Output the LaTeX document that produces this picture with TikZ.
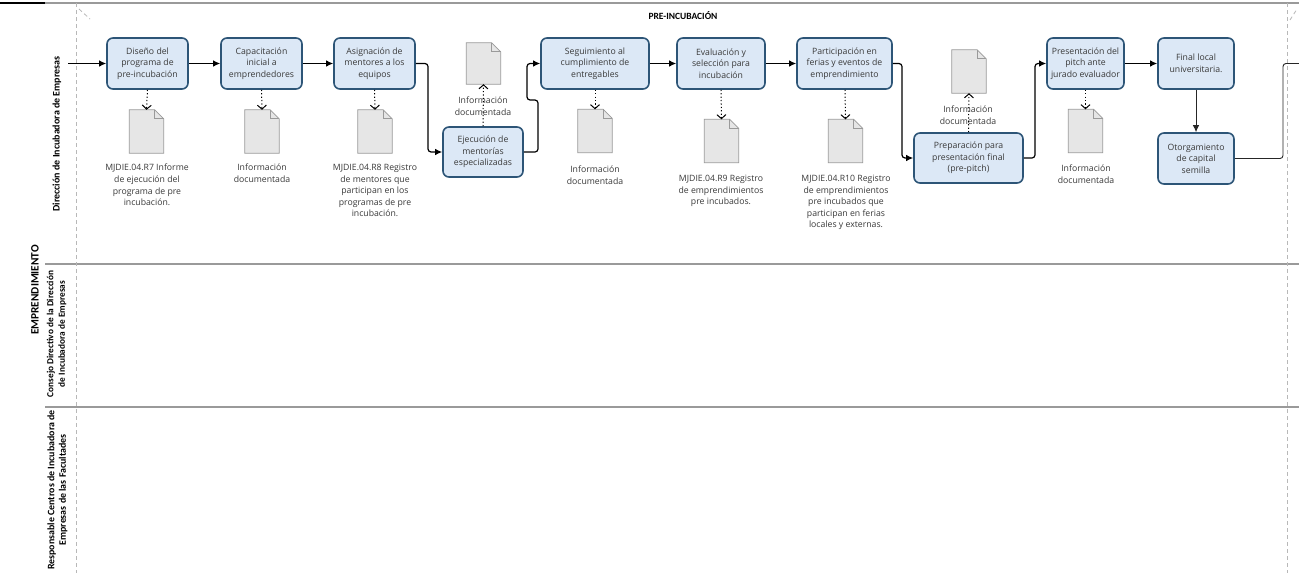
\documentclass[tikz,border=0pt]{standalone}
\usepackage{fontspec}
\setmainfont{Open Sans}
\newfontfamily\lblfont{Carlito}
\usetikzlibrary{arrows.meta}
\definecolor{taskfill}{HTML}{DCE8F6}
\definecolor{taskdraw}{HTML}{2D5577}
\definecolor{docfill}{HTML}{E6E6E6}
\definecolor{docdraw}{HTML}{9A9A9A}
\definecolor{txt}{HTML}{3A3A3A}
\definecolor{lanegray}{HTML}{9A9A9A}
\tikzset{
  task/.style={draw=taskdraw, fill=taskfill, line width=1.6pt, rounded corners=6pt, align=center,
    text=txt, font=\fontsize{8.7}{11.5}\selectfont, inner sep=1pt, minimum height=51pt},
  docbox/.style={minimum width=34pt, minimum height=43pt, inner sep=0pt},
  docstyle/.style={draw=docdraw, fill=docfill, line width=0.7pt},
  doclabel/.style={align=center, text=txt, font=\fontsize{8.7}{11.6}\selectfont, inner sep=0pt},
  flow/.style={draw=black, line width=1.2pt, rounded corners=3pt, -{Latex[length=7pt,width=6.5pt]}},
  thinflow/.style={draw=black!85, line width=0.9pt, rounded corners=3pt, -{Latex[length=7pt,width=6.5pt]}},
  flowend/.style={draw=black!85, line width=0.9pt, rounded corners=3pt},
  assoc/.style={draw=black, line width=1pt, dash pattern=on 1.2pt off 2.2pt, -{Straight Barb[length=4pt,width=9pt]}},
  lanelbl/.style={rotate=90, align=center, text=black, font=\lblfont\bfseries\fontsize{10}{11.5}\selectfont, inner sep=0pt},
  divider/.style={draw=lanegray, line width=1.1pt},
  boundary/.style={draw=lanegray!70, line width=0.8pt, dash pattern=on 4pt off 3pt},
}
\newcommand\docpage[1]{%
  \filldraw[docstyle] (#1.north west) -- ([xshift=-9pt]#1.north east) -- ([yshift=-9pt]#1.north east)
    -- (#1.south east) -- (#1.south west) -- cycle;
  \draw[docstyle, fill=none] ([xshift=-9pt]#1.north east) -- ([xshift=-9pt,yshift=-9pt]#1.north east)
    -- ([yshift=-9pt]#1.north east);
}
\begin{document}
\begin{tikzpicture}[x=1pt,y=-1pt]
\fill[white] (0,0) rectangle (1299,573);
\useasboundingbox (0,0) rectangle (1299,573);

% pool / lanes
\draw[divider] (0,3) -- (1299,3);
\draw[black, line width=1.5pt] (0,3) -- (45,3);
\draw[divider] (45,264) -- (1299,264);
\draw[divider] (45,407) -- (1299,407);
\draw[boundary] (76,3) -- (76,573);
\draw[boundary] (1287,3) -- (1287,573);
\draw[boundary] (79,9) -- (90,19);
\draw[boundary] (1290,20) -- (1297,9);

\node[lanelbl, font=\lblfont\bfseries\fontsize{11.3}{13}\selectfont] (pool) at (35,290) {EMPRENDIMIENTO};
\node[lanelbl] (lane1) at (57,134) {Dirección de Incubadora de Empresas};
\node[lanelbl, font=\lblfont\bfseries\fontsize{9.3}{11.5}\selectfont] (lane2) at (56.5,334) {Consejo Directivo de la Dirección\\de Incubadora de Empresas};
\node[lanelbl, font=\lblfont\bfseries\fontsize{9.9}{11.5}\selectfont] (lane3) at (57.5,490) {Responsable Centros de Incubadora de\\Empresas de las Facultades};
\node[font=\lblfont\bfseries\fontsize{9.5}{11}\selectfont] (phase) at (683,16) {PRE-INCUBACIÓN};

% tasks
\node[task, minimum width=81pt] (t1) at (147.5,63.5) {Diseño del\\programa de\\pre-incubación};
\node[task, minimum width=81pt] (t2) at (261.5,63.5) {Capacitación\\inicial a\\emprendedores};
\node[task, minimum width=81pt] (t3) at (374.5,63.5) {Asignación de\\mentores a los\\equipos};
\node[task, minimum width=80pt, minimum height=50pt] (t4) at (483,152) {Ejecución de\\mentorías\\especializadas};
\node[task, minimum width=108pt] (t5) at (595,63.5) {Seguimiento al\\cumplimiento de\\entregables};
\node[task, minimum width=88pt] (t6) at (721,63.5) {Evaluación y\\selección para\\incubación};
\node[task, minimum width=95pt] (t7) at (844.5,63.5) {Participación en\\ferias y eventos de\\emprendimiento};
\node[task, minimum width=109pt, minimum height=50pt] (t8) at (968.5,158) {Preparación para\\presentación final\\(pre-pitch)};
\node[task, minimum width=77pt] (t9) at (1085.5,63.5) {Presentación del\\pitch ante\\jurado evaluador};
\node[task, minimum width=76pt] (t10) at (1196,63.5) {Final local\\universitaria.};
\node[task, minimum width=76pt] (t11) at (1196,158.5) {Otorgamiento\\de capital\\semilla};

% documents
\node[docbox] (d1) at (146.5,131.5) {};
\node[docbox] (d2) at (262,131.5) {};
\node[docbox] (d3) at (375,131.5) {};
\node[docbox, minimum height=41pt] (d4) at (483.5,63.5) {};
\node[docbox] (d5) at (595,131) {};
\node[docbox] (d6) at (721.5,141) {};
\node[docbox] (d7) at (845.5,141) {};
\node[docbox] (d8) at (969,71.5) {};
\node[docbox] (d9) at (1085.5,131) {};
\docpage{d1}\docpage{d2}\docpage{d3}\docpage{d4}\docpage{d5}
\docpage{d6}\docpage{d7}\docpage{d8}\docpage{d9}

% document labels
\node[doclabel, anchor=north] (l1) at (147,164) {MJDIE.04.R7 Informe\\de ejecución del\\programa de pre\\incubación.};
\node[doclabel, anchor=north] (l2) at (262,164) {Información\\documentada};
\node[doclabel, anchor=north] (l3) at (375,164) {MJDIE.04.R8 Registro\\de mentores que\\participan en los\\programas de pre\\incubación.};
\node[doclabel] (l4) at (483,106) {Información\\documentada};
\node[doclabel, anchor=north] (l5) at (595,166) {Información\\documentada};
\node[doclabel, anchor=north] (l6) at (721,175) {MJDIE.04.R9 Registro\\de emprendimientos\\pre incubados.};
\node[doclabel, anchor=north] (l7) at (846,175) {MJDIE.04.R10 Registro\\de emprendimientos\\pre incubados que\\participan en ferias\\locales y externas.};
\node[doclabel] (l8) at (968,115) {Información\\documentada};
\node[doclabel, anchor=north] (l9) at (1086,165) {Información\\documentada};

% associations
\draw[assoc] (t1.south) -- (d1.north);
\draw[assoc] (t2.south) -- (d2.north);
\draw[assoc] (t3.south) -- (d3.north);
\draw[assoc] (t4.north) -- (d4.south);
\draw[assoc] (t5.south) -- (d5.north);
\draw[assoc] (t6.south) -- (d6.north);
\draw[assoc] ([xshift=0.5pt]t7.south) -- (d7.north);
\draw[assoc] (t8.north) -- (d8.south);
\draw[assoc] (t9.south) -- (d9.north);

% sequence flows
\coordinate (start) at (68,63.5);
\coordinate (exit) at (1299,63.5);
\draw[flow] (start) -- (t1.west);
\draw[flow] (t1) -- (t2);
\draw[flow] (t2) -- (t3);
\draw[flow] (t3.east) -- (428,63.5) -- (428,152) -- (t4.west);
\draw[flow] (t4.east) -- (538,152) -- (538,100) -- (527,100) -- (527,63.5) -- (t5.west);
\draw[flow] (t5) -- (t6);
\draw[flow] (t6) -- (t7);
\draw[flow] (t7.east) -- (902,63.5) -- (902,158) -- (t8.west);
\draw[flow] (t8.east) -- (1035,158) -- (1035,63.5) -- (t9.west);
\draw[flow] (t9) -- (t10);
\draw[thinflow] (t10) -- (t11);
\draw[flowend] (t11.east) -- (1283,158.5) -- (1283,63.5) -- (exit);
\end{tikzpicture}
\end{document}
